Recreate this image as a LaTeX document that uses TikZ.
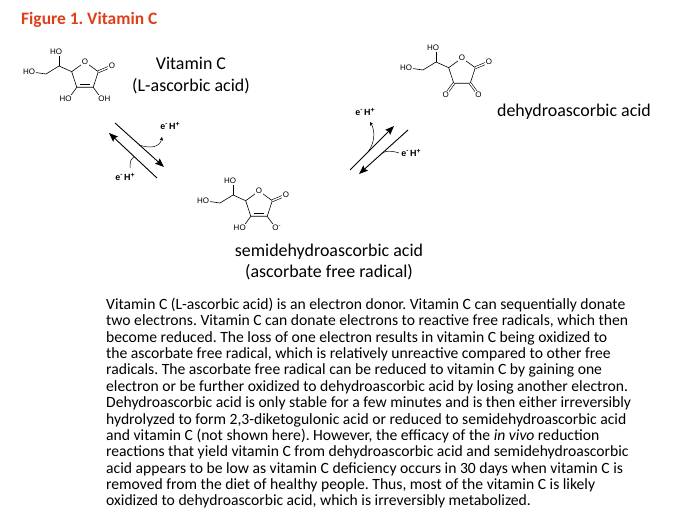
\documentclass[tikz,border=0pt]{standalone}
\usepackage{fontspec}
\setmainfont{Carlito}
\newfontfamily\chemfont{Liberation Sans}
\usepackage{tikz}
\usetikzlibrary{arrows.meta}
\frenchspacing
\definecolor{figred}{RGB}{224,62,26}
\tikzstyle{bond} = [line width=0.6bp]
\tikzstyle{atom} = [font=\chemfont\fontsize{8}{9}\selectfont, inner sep=0.7bp, fill=white]
\tikzstyle{charge} = [font=\chemfont\bfseries\fontsize{9}{10}\selectfont, inner sep=0pt]
\tikzstyle{molname} = [font=\fontsize{18}{22}\selectfont, align=center, inner sep=0pt]
\tikzstyle{react} = [line width=0.9bp, -{Stealth[length=9bp,width=7bp,inset=1.5bp]}]
\tikzstyle{loss} = [line width=0.5bp, -{Stealth[length=3.5bp,width=3.5bp]}]
\newcommand{\eHp}{e\raisebox{0.45em}{\fontsize{6.5}{7}\selectfont -}\,H\raisebox{0.4em}{\fontsize{7}{7}\selectfont +}}
% ring and side chain shared by the three forms
\newcommand{\ascskel}[1]{%
	\coordinate (#1-o) at (0,-14);
	\coordinate (#1-c1) at (13.3,-4.3);
	\coordinate (#1-c2) at (8.2,11.3);
	\coordinate (#1-c3) at (-8.2,11.3);
	\coordinate (#1-c5) at (-13.3,-4.3);
	\coordinate (#1-c6) at (-26,-10);
	\coordinate (#1-c7) at (-39,-2);
	\coordinate (#1-o1) at (27,-10);
	\coordinate (#1-o2) at (16.4,22.6);
	\coordinate (#1-o3) at (-16.4,22.6);
	\coordinate (#1-o5) at (-26,-24);
	\coordinate (#1-o6) at (-53,-4);
	\coordinate (#1-i2) at (5.4,8.4);
	\coordinate (#1-i3) at (-5.4,8.4);
	\draw[bond] (#1-o) -- (#1-c1) -- (#1-c2) -- (#1-c3) -- (#1-c5) -- cycle;
	\draw[bond] (#1-c5) -- (#1-c6) -- (#1-c7) -- (#1-o6);
	\draw[bond] (#1-c6) -- (#1-o5);
	\draw[bond,double,double distance=1.4bp] (#1-c1) -- (#1-o1);
	\node[atom] (#1-ol) at (#1-o) {O};
	\node[atom] (#1-o1l) at (#1-o1) {O};
	\node[atom] (#1-o5l) at (#1-o5) {\llap{H}O};
	\node[atom] (#1-o6l) at (#1-o6) {\llap{H}O};
}

\begin{document}
\begin{tikzpicture}[x=1bp,y=-1bp]
	\useasboundingbox[fill=white] (0,0) rectangle (680,522);
	\node[anchor=west, inner sep=0pt, text=figred, font=\bfseries\fontsize{17.5}{20}\selectfont] (title) at (21,20) {Figure 1. Vitamin C};
	
	% vitamin C
	\begin{scope}[shift={(85,76)}]
		\ascskel{vc}
		\draw[bond] (vc-c2) -- (vc-o2);
		\draw[bond] (vc-c3) -- (vc-o3);
		\draw[bond] (vc-i2) -- (vc-i3);
		\node[atom] (vc-o2l) at (vc-o2) {O\rlap{H}};
		\node[atom] (vc-o3l) at (vc-o3) {\llap{H}O};
	\end{scope}
	\node[molname] (vcname) at (191,76) {Vitamin C\\(L-ascorbic acid)};
	
	% semidehydroascorbic acid
	\begin{scope}[shift={(259,205)}]
		\ascskel{sd}
		\draw[bond] (sd-c2) -- (sd-o2);
		\draw[bond] (sd-c3) -- (sd-o3);
		\draw[bond] (sd-i2) -- (sd-i3);
		\node[atom] (sd-o2l) at (sd-o2) {O\rlap{\textsuperscript{-}}};
		\node[atom] (sd-o3l) at (sd-o3) {\llap{H}O};
	\end{scope}
	\node[molname] (sdname) at (329,262) {semidehydroascorbic acid\\(ascorbate free radical)};
	
	% dehydroascorbic acid
	\begin{scope}[shift={(462,72)}]
		\ascskel{da}
		\draw[bond,double,double distance=1.4bp] (da-c2) -- (da-o2);
		\draw[bond,double,double distance=1.4bp] (da-c3) -- (da-o3);
		\node[atom] (da-o2l) at (da-o2) {O};
		\node[atom] (da-o3l) at (da-o3) {O};
	\end{scope}
	\node[molname] (daname) at (574,112) {dehydroascorbic acid};
	
	% first step
	\coordinate (l1a) at (115,123);
	\coordinate (l1b) at (164,167);
	\coordinate (l2a) at (157,178);
	\coordinate (l2b) at (109,133);
	\draw[react] (l1a) -- (l1b);
	\draw[react] (l2a) -- (l2b);
	\node[charge] (eh1) at (170,126) {\eHp};
	\node[charge] (eh2) at (125,177) {\eHp};
	\draw[loss] (139,145) .. controls (151,149) and (160,147) .. (162,137);
	\draw[line width=0.5bp] (130,168) .. controls (130,161) and (131,158.5) .. (134,156.4);
	
	% second step
	\coordinate (r1a) at (350,170);
	\coordinate (r1b) at (394,126);
	\coordinate (r2a) at (408,130);
	\coordinate (r2b) at (359,174);
	\draw[react] (r1a) -- (r1b);
	\draw[react] (r2a) -- (r2b);
	\node[charge] (eh3) at (365,112) {\eHp};
	\node[charge] (eh4) at (411,153) {\eHp};
	\draw[loss] (368,152) .. controls (374,144) and (376,132) .. (370,122);
	\draw[line width=0.5bp] (399,153) .. controls (391,150.5) and (386,150.5) .. (382,153.3);
	
	\node[anchor=north west, align=left, inner sep=0pt, font=\fontsize{15.7}{16.4}\selectfont] (body) at (106,298) {Vitamin C (L-ascorbic acid) is an electron donor. Vitamin C can sequentially donate\\
		two electrons. Vitamin C can donate electrons to reactive free radicals, which then\\
		become reduced. The loss of one electron results in vitamin C being oxidized to\\
		the ascorbate free radical, which is relatively unreactive compared to other free\\
		radicals. The ascorbate free radical can be reduced to vitamin C by gaining one\\
		electron or be further oxidized to dehydroascorbic acid by losing another electron.\\
		Dehydroascorbic acid is only stable for a few minutes and is then either irreversibly\\
		hydrolyzed to form 2,3-diketogulonic acid or reduced to semidehydroascorbic acid\\
		and vitamin C (not shown here). However, the efficacy of the \textit{in vivo} reduction\\
		reactions that yield vitamin C from dehydroascorbic acid and semidehydroascorbic\\
		acid appears to be low as vitamin C deficiency occurs in 30 days when vitamin C is\\
		removed from the diet of healthy people. Thus, most of the vitamin C is likely\\
		oxidized to dehydroascorbic acid, which is irreversibly metabolized.};
\end{tikzpicture}
\end{document}
